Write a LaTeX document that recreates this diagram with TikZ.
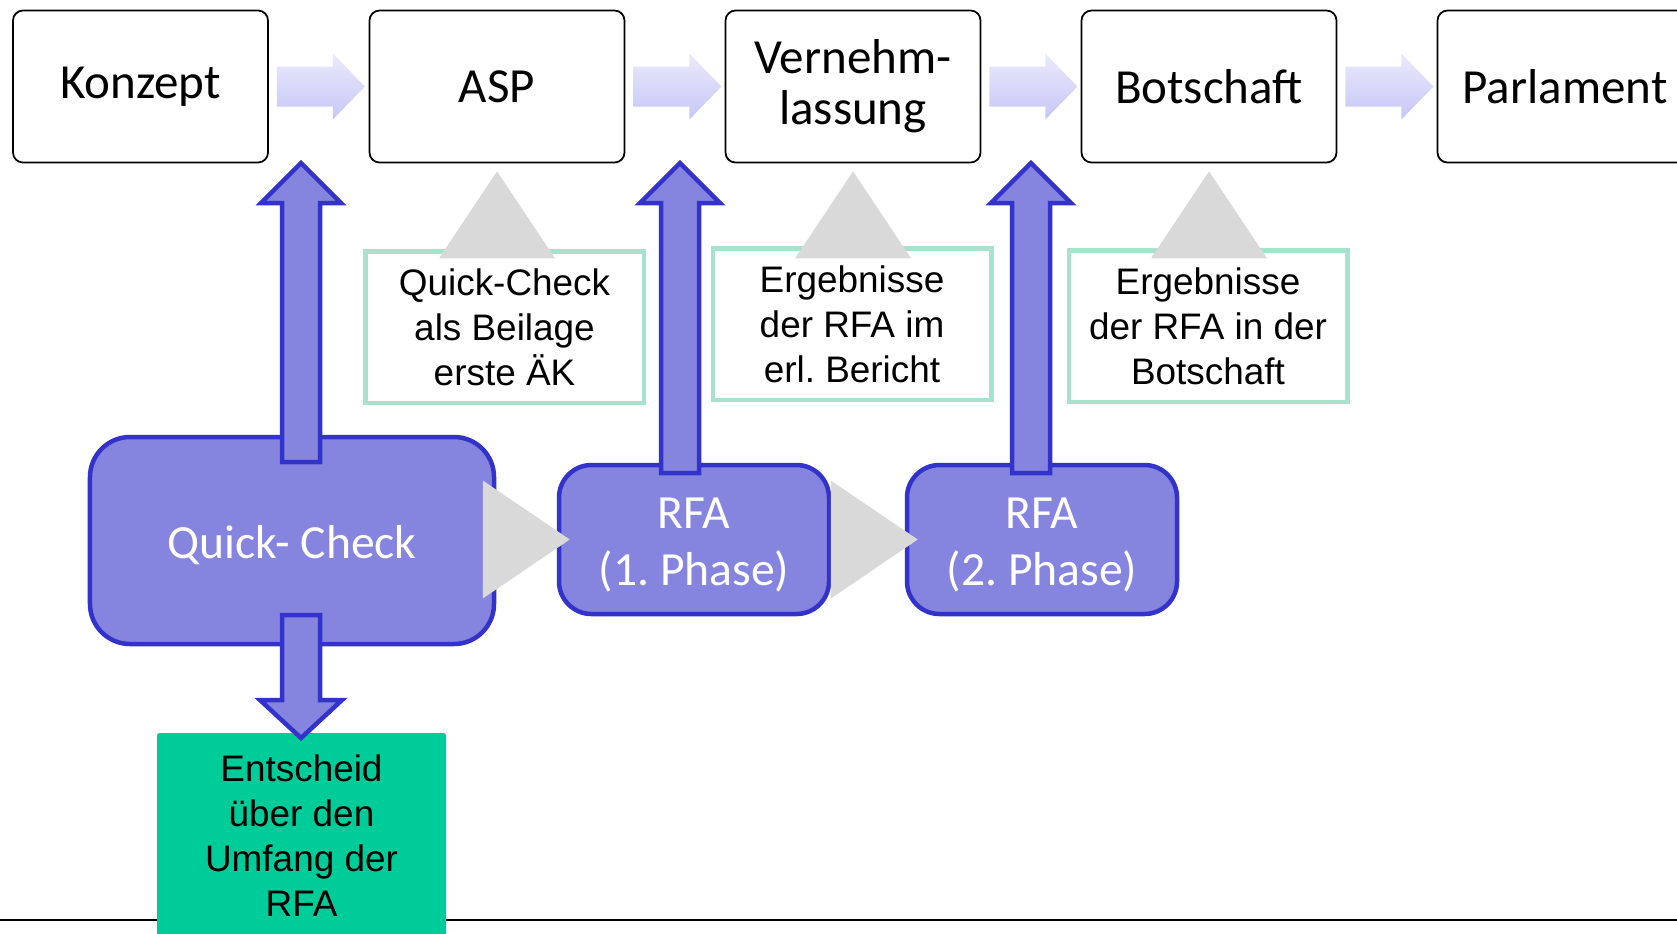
\documentclass[tikz,border=0pt]{standalone}
\usepackage{fontspec}
\setmainfont{Carlito}
\newfontfamily\arialfont{Liberation Sans}
\usetikzlibrary{calc}
\frenchspacing

\definecolor{qcblue}{RGB}{133,133,224}
\definecolor{qcborder}{RGB}{51,51,204}
\definecolor{trigray}{RGB}{217,217,217}
\definecolor{mint}{RGB}{168,226,204}
\definecolor{entgreen}{RGB}{0,204,153}
\definecolor{lavtop}{RGB}{234,234,252}
\definecolor{lavbot}{RGB}{198,198,246}

\begin{document}
\begin{tikzpicture}[x=0.2mm,y=0.2mm,
  stage/.style={draw=black,line width=0.35mm,fill=white,rounded corners=2mm,
    minimum width=51mm,minimum height=30.4mm,align=center,
    font=\fontsize{27.9pt}{29pt}\selectfont},
  note/.style={draw=mint,line width=0.9mm,fill=white,
    minimum width=55.7mm,minimum height=30.3mm,align=center,
    font=\arialfont\fontsize{21pt}{25.6pt}\selectfont},
  phase/.style={draw=qcborder,line width=0.9mm,fill=qcblue,text=white,
    rounded corners=6.5mm,minimum width=54mm,minimum height=29.8mm,align=center,
    font=\fontsize{27.1pt}{32.4pt}\selectfont},
  flowarrow/.style={top color=lavtop,bottom color=lavbot},
  blockarrow/.style={draw=qcborder,line width=0.9mm,fill=qcblue},
  gapmark/.style={fill=trigray}]
\useasboundingbox (0,0) rectangle (1677,-933);

% rule at the bottom
\draw [black,line width=0.4mm] (0,-920) -- (1677,-920);

% stages
\node[stage] (konzept) at (140.5,-86.5) {Konzept};
\node[stage] (asp) at (497,-86.5) {ASP};
\node[stage] (vernehm) at (853,-86.5) {Vernehm-\\lassung};
\node[stage] (botschaft) at (1209,-86.5) {Botschaft};
\node[stage] (parlament) at (1565,-86.5) {Parlament};
\foreach \a in {konzept,asp,vernehm,botschaft}
  \shade[flowarrow] ($(\a.east)+(8,20)$) -- ++(56,0) -- ++(0,13) -- ++(32,-33)
    -- ++(-32,-33) -- ++(0,13) -- ++(-56,0) -- cycle;

% notes below the stages
\node[note] (note1) at (504.5,-327) {Quick-Check\\als Beilage\\erste ÄK};
\node[note] (note2) at (852,-324) {Ergebnisse\\der RFA im\\erl. Bericht};
\node[note] (note3) at (1208,-326) {Ergebnisse\\der RFA in der\\Botschaft};
\foreach \a in {asp,vernehm,botschaft}
  \fill[gapmark] ($(\a.south)+(0,-8)$) -- ++(58,-87) -- ++(-116,0) -- cycle;

% checks
\node[phase,minimum width=80.8mm,minimum height=41.4mm,rounded corners=8mm] (qc) at (292,-540.5) {\rule{0pt}{24pt}Quick- Check};
\node[phase] (rfa1) at (694,-539.5) {\rule{0pt}{24pt}RFA\\(1. Phase)};
\node[phase] (rfa2) at (1042,-539.5) {\rule{0pt}{24pt}RFA\\(2. Phase)};
\foreach \a in {rfa1,rfa2}
  \fill[gapmark] ($(\a.west)+(-74,59)$) -- ++(87,-59) -- ++(-87,-59) -- cycle;

\node[fill=entgreen,rounded corners=0.5mm,minimum width=57.8mm,minimum height=41.2mm,
  align=center,font=\arialfont\fontsize{21pt}{25.6pt}\selectfont] (entscheid) at (301.5,-836)
  {Entscheid\\über den\\Umfang der\\RFA};

% block arrows
\coordinate (tipA) at (301,-163);
\coordinate (tipB) at (680,-163);
\coordinate (tipC) at (1031,-163);
\coordinate (tipD) at (301,-738);
\draw[blockarrow] (tipA) -- ++(40,-40) -- ++(-21,0) -- ++(0,-259) -- ++(-38,0) -- ++(0,259) -- ++(-21,0) -- cycle;
\draw[blockarrow] (tipB) -- ++(40,-40) -- ++(-21,0) -- ++(0,-270) -- ++(-38,0) -- ++(0,270) -- ++(-21,0) -- cycle;
\draw[blockarrow] (tipC) -- ++(40,-40) -- ++(-21,0) -- ++(0,-270) -- ++(-38,0) -- ++(0,270) -- ++(-21,0) -- cycle;
\draw[blockarrow] (tipD) -- ++(-41,38) -- ++(22,0) -- ++(0,85) -- ++(38,0) -- ++(0,-85) -- ++(22,0) -- cycle;
\end{tikzpicture}
\end{document}
